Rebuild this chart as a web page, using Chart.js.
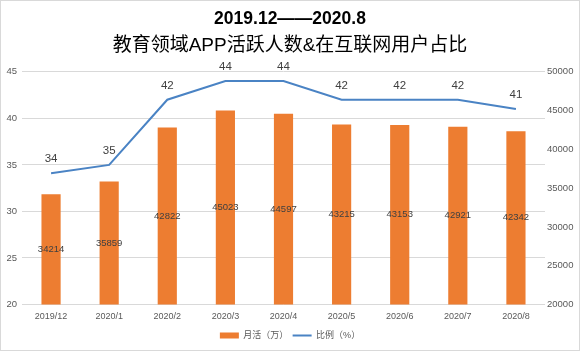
<!DOCTYPE html>
<html><head><meta charset="utf-8">
<script src="https://cdn.jsdelivr.net/npm/chart.js@4.4.0/dist/chart.umd.min.js"></script>
<style>
html,body{margin:0;padding:0;background:#fff;}
#wrap{width:580px;height:351px;box-sizing:border-box;border:1px solid #d9d9d9;}
canvas{display:block;}
</style></head><body>
<div id="wrap"><canvas id="c" width="578" height="349"></canvas></div>
<script>
const categories = ['2019/12','2020/1','2020/2','2020/3','2020/4','2020/5','2020/6','2020/7','2020/8'];
const activeUsers = [34214, 35859, 42822, 45023, 44597, 43215, 43153, 42921, 42342];
const shareRatio = [34.1, 35.0, 42.0, 44.0, 44.0, 42.0, 42.0, 42.0, 41.0];
const leftTicks = [20, 25, 30, 35, 40, 45];
const rightTicks = [20000, 25000, 30000, 35000, 40000, 45000, 50000];
const seriesNames = ['月活（万）', '比例（%）'];
const titleLines = ['2019.12——2020.8', '教育领域APP活跃人数&在互联网用户占比'];

const FONT = '"Liberation Sans", "Noto Sans CJK SC", sans-serif';
const ORANGE = '#ED7D31';
const BLUE = '#4a83c4';

const labelPlugin = {
  id: 'valueLabels',
  afterDatasetsDraw(chart) {
    const ctx = chart.ctx;
    ctx.save();
    ctx.fillStyle = '#404040';
    ctx.textAlign = 'center';
    ctx.textBaseline = 'middle';
    ctx.font = '9.5px ' + FONT;
    const bottom = chart.chartArea.bottom;
    chart.getDatasetMeta(0).data.forEach((el, i) => {
      const p = el.getProps(['x', 'y', 'base'], true);
      const base = Math.min(p.base, bottom);
      ctx.fillText(String(activeUsers[i]), p.x, (p.y + base) / 2);
    });
    ctx.font = '11.5px ' + FONT;
    chart.getDatasetMeta(1).data.forEach((el, i) => {
      const p = el.getProps(['x', 'y'], true);
      ctx.fillText(String(Math.round(shareRatio[i])), p.x, p.y - 14);
    });
    ctx.restore();
  }
};

new Chart(document.getElementById('c'), {
  data: {
    labels: categories,
    datasets: [
      {
        type: 'bar',
        label: seriesNames[0],
        data: activeUsers,
        backgroundColor: ORANGE,
        borderWidth: 0,
        yAxisID: 'y1',
        barPercentage: 0.33,
        categoryPercentage: 1
      },
      {
        type: 'line',
        label: seriesNames[1],
        data: shareRatio,
        borderColor: BLUE,
        backgroundColor: BLUE,
        borderWidth: 2,
        pointRadius: 0,
        tension: 0,
        yAxisID: 'y'
      }
    ]
  },
  options: {
    responsive: false,
    devicePixelRatio: 1,
    animation: false,
    layout: { padding: { left: 0, right: 0, top: 0, bottom: 0 } },
    scales: {
      x: {
        grid: { display: false, drawTicks: false },
        border: { display: false },
        ticks: { color: '#595959', font: { family: FONT, size: 9 }, padding: 7, maxRotation: 0 },
        afterFit(s) { s.height = 22.25; }
      },
      y: {
        position: 'left',
        min: 20, max: 45,
        afterBuildTicks(s) { s.ticks = leftTicks.map(v => ({ value: v })); },
        grid: { color: '#d9d9d9', lineWidth: 1, drawTicks: false },
        border: { display: false },
        ticks: { color: '#595959', font: { family: FONT, size: 9.5 }, padding: 5 },
        afterFit(s) { s.width = 21; }
      },
      y1: {
        position: 'right',
        min: 20000, max: 50000,
        afterBuildTicks(s) { s.ticks = rightTicks.map(v => ({ value: v })); },
        grid: { display: false, drawTicks: false },
        border: { display: false },
        ticks: { color: '#595959', font: { family: FONT, size: 9.5 }, padding: 2,
                 callback: v => String(v) },
        afterFit(s) { s.width = 34; }
      }
    },
    plugins: {
      title: {
        display: true,
        text: titleLines[0],
        color: '#000',
        font: { family: FONT, size: 17.5, weight: 'bold', lineHeight: 1.2 },
        padding: { top: 8, bottom: 0 }
      },
      subtitle: {
        display: true,
        text: titleLines[1],
        color: '#000',
        font: { family: FONT, size: 19, weight: 'normal', lineHeight: 1.2 },
        padding: { top: 4, bottom: 15 }
      },
      legend: {
        position: 'bottom',
        labels: {
          usePointStyle: true,
          pointStyleWidth: 19,
          boxHeight: 6,
          padding: 4.25,
          color: '#595959',
          font: { family: FONT, size: 9 },
          generateLabels(chart) {
            const items = Chart.defaults.plugins.legend.labels.generateLabels(chart);
            items.forEach(it => {
              if (it.datasetIndex === 0) {
                it.pointStyle = 'rect'; it.fillStyle = ORANGE; it.strokeStyle = ORANGE; it.lineWidth = 0;
              } else {
                it.pointStyle = 'line'; it.strokeStyle = BLUE; it.fillStyle = BLUE; it.lineWidth = 2;
              }
            });
            return items;
          }
        }
      },
      tooltip: { enabled: false }
    }
  },
  plugins: [labelPlugin]
});
</script>
</body></html>
